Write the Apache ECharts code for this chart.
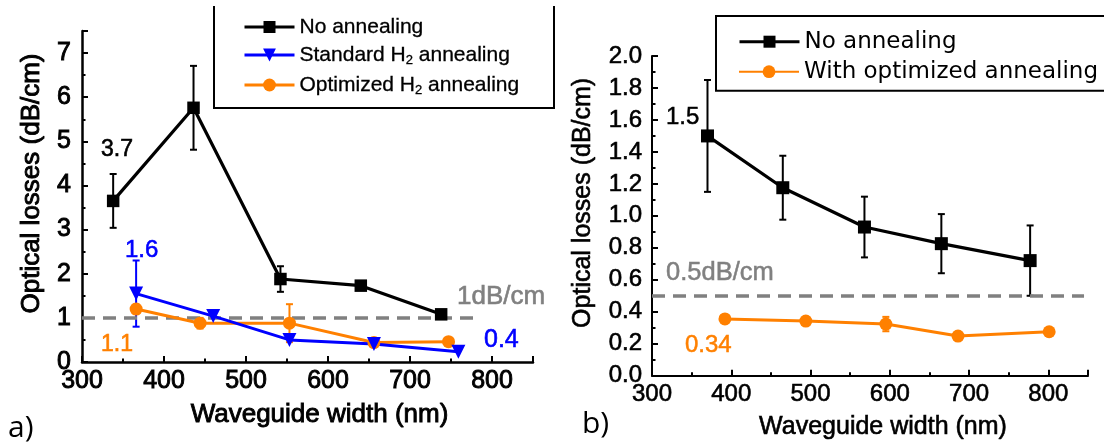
<!DOCTYPE html>
<html>
<head>
<meta charset="utf-8">
<script src="https://cdn.jsdelivr.net/npm/echarts@6/dist/echarts.min.js"></script>
<style>
html,body{margin:0;padding:0;background:#fff;}
#c{width:1104px;height:443px;}
</style>
</head>
<body>
<div id="c"></div>
<script>
// ---- Panel a) data ----
const leftX_none = [338, 436, 542, 640, 738];
const leftY_none = [3.65, 5.76, 1.88, 1.73, 1.08];
const leftErr_none = [0.61, 0.95, 0.29, 0.08, 0];

const leftX_std = [366, 460, 553, 656, 759];
const leftY_std = [1.55, 1.04, 0.50, 0.41, 0.23];
const leftErr_std = [0.75, 0, 0, 0, 0];

const leftX_opt = [366, 444, 553, 656, 747];
const leftY_opt = [1.2, 0.88, 0.88, 0.44, 0.46];
const leftErr_opt = [0.1, 0.12, 0.43, 0.05, 0];

const leftRef = 1;            // dB/cm threshold
const leftRefRange = [300, 778];

// ---- Panel b) data ----
const rightX_none = [370, 465, 568, 665, 777];
const rightY_none = [1.50, 1.176, 0.93, 0.826, 0.72];
const rightErr_none = [0.35, 0.2, 0.19, 0.185, 0.22];

const rightX_opt = [392, 494, 595, 686, 801];
const rightY_opt = [0.355, 0.342, 0.323, 0.248, 0.275];
const rightErr_opt = [0.015, 0.01, 0.045, 0.01, 0.01];

const rightRef = 0.5;
const rightRefRange = [300, 845];

const xTicksMin = 300, xTicksMax = 850, xTickStep = 100;
const leftYMax = 7.5, leftYStep = 1;
const rightYMax = 2.0, rightYStep = 0.2;

const names = {
  none: 'No annealing',
  std: 'Standard H₂ annealing',
  opt: 'Optimized H₂ annealing',
  none2: 'No annealing ',
  opt2: 'With optimized annealing'
};

const BLACK = '#000000', BLUE = '#0000ff', ORANGE = '#ff8000', GRAY = '#808080';
const FONT = "'Liberation Sans', Arial, sans-serif";

function pts(xs, ys) { return xs.map((x, i) => [x, ys[i]]); }
function errPts(xs, ys, es) { return xs.map((x, i) => [x, ys[i], es[i]]); }

function errRender(color) {
  return function (params, api) {
    const x = api.value(0), y = api.value(1), e = api.value(2);
    if (!e) return;
    const t = api.coord([x, y + e]);
    const b = api.coord([x, y - e]);
    const w = 3.5;
    const st = { stroke: color, lineWidth: 2 };
    return {
      type: 'group',
      children: [
        { type: 'line', shape: { x1: t[0], y1: t[1], x2: b[0], y2: b[1] }, style: st },
        { type: 'line', shape: { x1: t[0] - w, y1: t[1], x2: t[0] + w, y2: t[1] }, style: st },
        { type: 'line', shape: { x1: b[0] - w, y1: b[1], x2: b[0] + w, y2: b[1] }, style: st }
      ]
    };
  };
}

function xAxis(gi, fs, nameGap, namePad, nameFs, lw, bw) {
  return {
    type: 'value', gridIndex: gi, min: xTicksMin, max: xTicksMax, interval: xTickStep,
    axisLine: { show: true, onZero: false, lineStyle: { color: BLACK, width: lw } },
    axisTick: { show: true, inside: true, length: 6, lineStyle: { color: BLACK, width: 2 } },
    minorTick: { show: true, splitNumber: 2, length: 3.5, lineStyle: { color: BLACK, width: 2 } },
    splitLine: { show: false }, minorSplitLine: { show: false },
    axisLabel: { color: BLACK, fontSize: fs, fontFamily: FONT, margin: 7, showMaxLabel: false,
      textBorderColor: BLACK, textBorderWidth: bw },
    name: 'Waveguide width (nm)', nameLocation: 'middle', nameGap: nameGap, nameMoveOverlap: false,
    nameTextStyle: { color: BLACK, fontSize: nameFs, fontFamily: FONT, padding: [0, 0, 0, namePad],
      textBorderColor: BLACK, textBorderWidth: bw }
  };
}
function yAxis(gi, max, step, fs, nameGap, namePad, nameFs, fmt, showMax, margin, lw, bw) {
  return {
    type: 'value', gridIndex: gi, min: 0, max: max, interval: step,
    axisLine: { show: true, onZero: false, lineStyle: { color: BLACK, width: lw } },
    axisTick: { show: true, inside: true, length: 6, lineStyle: { color: BLACK, width: 2 } },
    minorTick: { show: true, splitNumber: 2, length: 3.5, lineStyle: { color: BLACK, width: 2 } },
    splitLine: { show: false }, minorSplitLine: { show: false },
    axisLabel: { color: BLACK, fontSize: fs, fontFamily: FONT, margin: margin, showMaxLabel: showMax, formatter: fmt,
      textBorderColor: BLACK, textBorderWidth: bw },
    name: 'Optical losses (dB/cm)', nameLocation: 'middle', nameRotate: 90, nameGap: nameGap, nameMoveOverlap: false,
    nameTextStyle: { color: BLACK, fontSize: nameFs, fontFamily: FONT, padding: [0, 0, 0, namePad],
      textBorderColor: BLACK, textBorderWidth: bw }
  };
}

function lineSeries(name, xi, data, color, symbol, size, width, extra) {
  return Object.assign({
    name: name, type: 'line', xAxisIndex: xi, yAxisIndex: xi, data: data,
    symbol: symbol, symbolSize: size, showSymbol: true,
    itemStyle: { color: color }, lineStyle: { color: color, width: width },
    z: 5, animation: false, clip: false
  }, extra || {});
}
function errSeries(name, xi, data, color) {
  return {
    name: name, type: 'custom', xAxisIndex: xi, yAxisIndex: xi, data: data,
    renderItem: errRender(color), encode: { x: 0, y: 1 }, z: 3, animation: false, silent: true
  };
}
function refLine(xi, value, range) {
  return {
    name: 'ref' + xi, type: 'line', xAxisIndex: xi, yAxisIndex: xi, data: [],
    animation: false, silent: true,
    markLine: {
      silent: true, symbol: 'none', animation: false,
      label: { show: false },
      lineStyle: { color: GRAY, width: 3.5, type: [13, 8] },
      data: [[{ coord: [range[0], value] }, { coord: [range[1], value] }]]
    },
    z: 4
  };
}

const subFmt = n => n.replace('₂', '{sub|2}');
const leftLegendText = {
  color: BLACK, fontSize: 21, fontFamily: FONT, lineHeight: 24,
  textBorderColor: BLACK, textBorderWidth: 0.3,
  rich: { sub: { fontSize: 13, fontFamily: FONT, lineHeight: 10, verticalAlign: 'bottom', color: BLACK } }
};
const rightLegendText = { color: BLACK, fontSize: 23, fontFamily: "'DejaVu Sans', sans-serif", lineHeight: 26 };

function legendItem(name, left, top, w, h, ts, lw) {
  return {
    data: [name], left: left, top: top, padding: 0, itemWidth: w, itemHeight: h,
    formatter: subFmt, textStyle: ts, selectedMode: false, orient: 'horizontal',
    lineStyle: { width: lw }
  };
}

const chart = echarts.init(document.getElementById('c'), null, { renderer: 'canvas' });
const option = {
  backgroundColor: '#ffffff',
  animation: false,
  grid: [
    { left: 82, top: 31, width: 451, height: 331, outerBoundsMode: 'none', containLabel: false },
    { left: 652, top: 56, width: 436, height: 319.7, outerBoundsMode: 'none', containLabel: false }
  ],
  xAxis: [xAxis(0, 25, 40, 24, 26, 2.5, 0.9), xAxis(1, 24, 39, 26, 25, 2, 0.6)],
  yAxis: [
    yAxis(0, leftYMax, leftYStep, 25, 37, 26, 26, v => String(v), false, 11, 2.5, 0.9),
    yAxis(1, rightYMax, rightYStep, 24, 56, 26, 25, v => v.toFixed(1), true, 10, 2, 0.6)
  ],
  legend: [
    legendItem(names.none, 243, 15, 50, 15, leftLegendText, 3),
    legendItem(names.std, 243, 43, 50, 16, leftLegendText, 3),
    legendItem(names.opt, 243, 73, 50, 16, leftLegendText, 3),
    legendItem(names.none2, 738, 28.7, 60, 15, rightLegendText, 3),
    legendItem(names.opt2, 738, 58.7, 60, 16, rightLegendText, 2)
  ],
  series: [
    refLine(0, leftRef, leftRefRange),
    errSeries('err-none', 0, errPts(leftX_none, leftY_none, leftErr_none), BLACK),
    errSeries('err-std', 0, errPts(leftX_std, leftY_std, leftErr_std), BLUE),
    errSeries('err-opt', 0, errPts(leftX_opt, leftY_opt, leftErr_opt), ORANGE),
    lineSeries(names.none, 0, pts(leftX_none, leftY_none), BLACK, 'rect', 12.5, 3.2),
    lineSeries(names.opt, 0, pts(leftX_opt, leftY_opt), ORANGE, 'circle', 13, 3),
    lineSeries(names.std, 0, pts(leftX_std, leftY_std), BLUE, 'triangle', 14, 3, { symbolRotate: 180 }),

    refLine(1, rightRef, rightRefRange),
    errSeries('err-none2', 1, errPts(rightX_none, rightY_none, rightErr_none), BLACK),
    errSeries('err-opt2', 1, errPts(rightX_opt, rightY_opt, rightErr_opt), ORANGE),
    lineSeries(names.none2, 1, pts(rightX_none, rightY_none), BLACK, 'rect', 13, 3.2),
    lineSeries(names.opt2, 1, pts(rightX_opt, rightY_opt), ORANGE, 'circle', 13, 3)
  ],
  graphic: [
    // legend frames
    { type: 'polyline', silent: true, shape: { points: [[214, 6], [214, 108], [554, 108], [554, 6]] },
      style: { stroke: BLACK, lineWidth: 2, fill: null } },
    { type: 'rect', silent: true, shape: { x: 716, y: 16, width: 420, height: 74.7 },
      style: { stroke: BLACK, lineWidth: 2, fill: null } },
    // annotations panel a
    { type: 'text', silent: true, x: 101, y: 150, style: { text: '3.7', fill: BLACK, fontSize: 23, fontFamily: FONT, verticalAlign: 'middle', align: 'left', stroke: BLACK, lineWidth: 0.6 } },
    { type: 'text', silent: true, x: 125, y: 250, style: { text: '1.6', fill: BLUE, fontSize: 24, fontFamily: FONT, verticalAlign: 'middle', align: 'left', stroke: BLUE, lineWidth: 0.6 } },
    { type: 'text', silent: true, x: 101, y: 345, style: { text: '1.1', fill: ORANGE, fontSize: 23, fontFamily: FONT, verticalAlign: 'middle', align: 'left', stroke: ORANGE, lineWidth: 0.6 } },
    { type: 'text', silent: true, x: 484, y: 340, style: { text: '0.4', fill: BLUE, fontSize: 25, fontFamily: FONT, verticalAlign: 'middle', align: 'left', stroke: BLUE, lineWidth: 0.6 } },
    { type: 'text', silent: true, x: 457, y: 297, style: { text: '1dB/cm', fill: GRAY, fontSize: 26, fontFamily: FONT, verticalAlign: 'middle', align: 'left', stroke: GRAY, lineWidth: 0.6 } },
    // annotations panel b
    { type: 'text', silent: true, x: 666, y: 117, style: { text: '1.5', fill: BLACK, fontSize: 24, fontFamily: FONT, verticalAlign: 'middle', align: 'left', stroke: BLACK, lineWidth: 0.5 } },
    { type: 'text', silent: true, x: 685, y: 345, style: { text: '0.34', fill: ORANGE, fontSize: 24, fontFamily: FONT, verticalAlign: 'middle', align: 'left', stroke: ORANGE, lineWidth: 0.5 } },
    { type: 'text', silent: true, x: 666, y: 273, style: { text: '0.5dB/cm', fill: GRAY, fontSize: 25.5, fontFamily: FONT, verticalAlign: 'middle', align: 'left', stroke: GRAY, lineWidth: 0.5 } },
    // panel labels
    { type: 'text', silent: true, x: 8, y: 428, style: { text: 'a)', fill: BLACK, fontSize: 30, fontFamily: "'Open Sans', sans-serif", verticalAlign: 'middle', align: 'left' } },
    { type: 'text', silent: true, x: 582, y: 424, style: { text: 'b)', fill: BLACK, fontSize: 30, fontFamily: "'Open Sans', sans-serif", verticalAlign: 'middle', align: 'left' } }
  ]
};
chart.setOption(option);
</script>
</body>
</html>
